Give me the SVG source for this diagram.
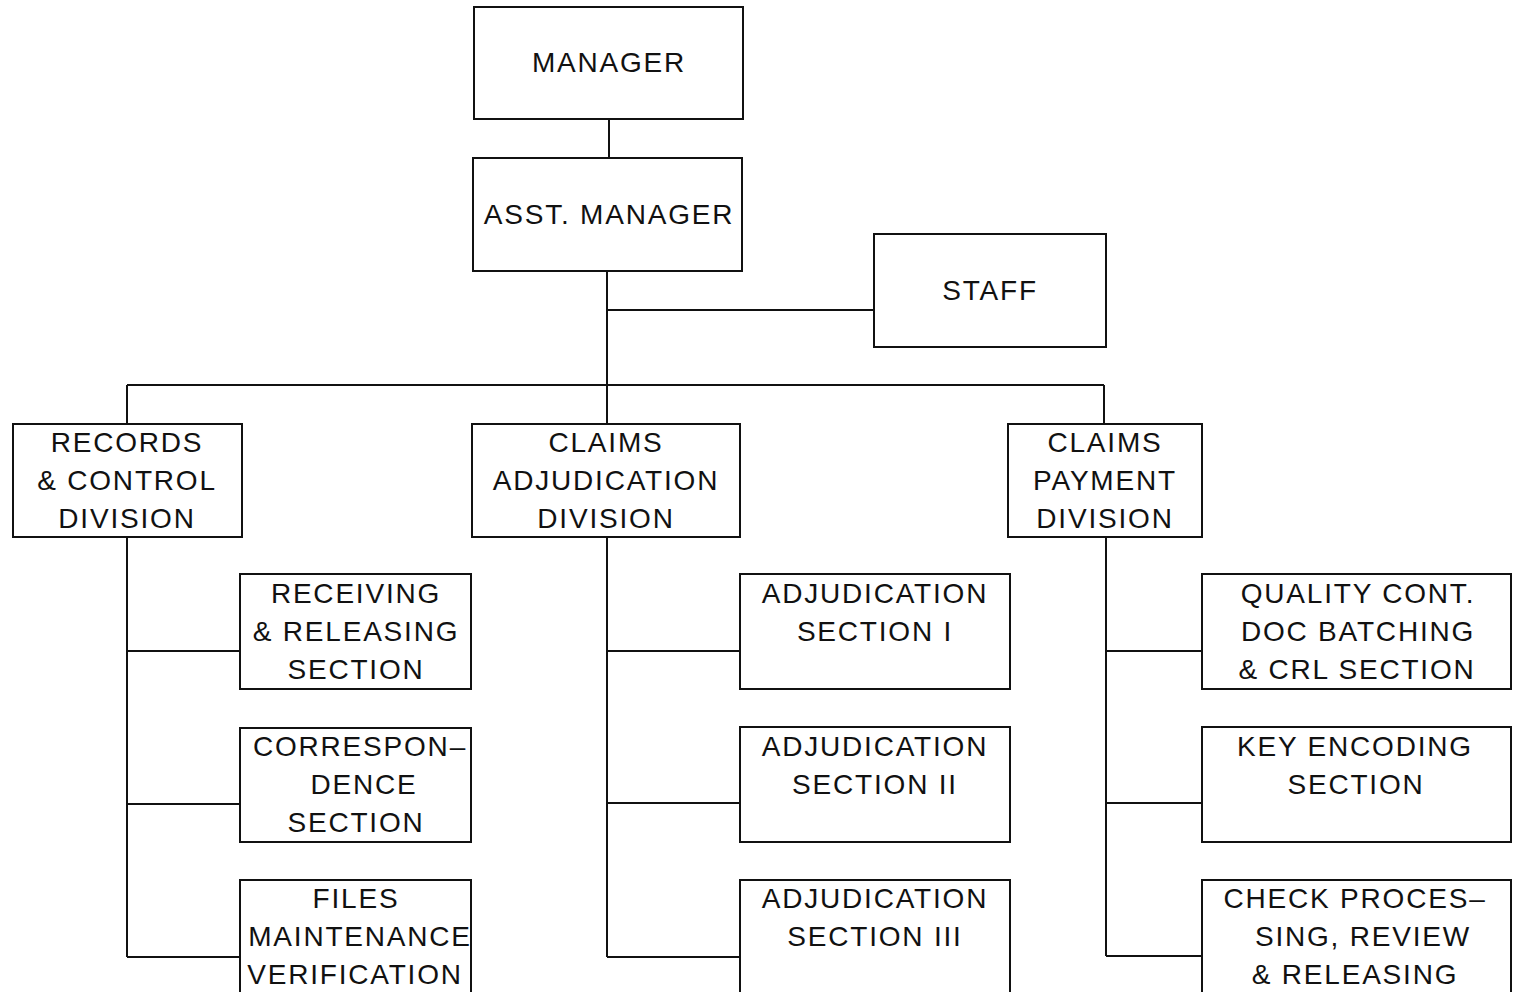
<svg xmlns="http://www.w3.org/2000/svg" width="1516" height="992" viewBox="0 0 1516 992">
<style>
.box{fill:#fff;stroke:#111;stroke-width:2}
.t{font-family:"Liberation Sans",Arial,sans-serif;font-size:28px;letter-spacing:1.8px;fill:#111;text-anchor:middle}
.c{stroke:#111;stroke-width:2;fill:none}
</style>
<rect width="1516" height="992" fill="#fff"/>
<g id="connectors">
<path class="c" d="M609 119V158M607 271V424M607 310H874M127 385H1104M127 385V424M1104 385V424"/>
<path class="c" d="M127 537V957M127 651H240M127 804H240M127 957H240"/>
<path class="c" d="M607 537V957M607 651H740M607 803H740M607 957H740"/>
<path class="c" d="M1106 537V956M1106 651H1202M1106 803H1202M1106 956H1202"/>
</g>
<g id="manager"><rect class="box" x="474" y="7" width="269" height="112"/><text class="t" x="609" y="72">MANAGER</text></g>
<g id="asst-manager"><rect class="box" x="473" y="158" width="269" height="113"/><text class="t" x="609" y="224">ASST. MANAGER</text></g>
<g id="staff"><rect class="box" x="874" y="234" width="232" height="113"/><text class="t" x="990" y="300">STAFF</text></g>
<g id="records-division"><rect class="box" x="13" y="424" width="229" height="113"/><text class="t" x="127" y="452">RECORDS</text><text class="t" x="127" y="490">&amp; CONTROL</text><text class="t" x="127" y="528">DIVISION</text></g>
<g id="claims-adjudication-division"><rect class="box" x="472" y="424" width="268" height="113"/><text class="t" x="606" y="452">CLAIMS</text><text class="t" x="606" y="490">ADJUDICATION</text><text class="t" x="606" y="528">DIVISION</text></g>
<g id="claims-payment-division"><rect class="box" x="1008" y="424" width="194" height="113"/><text class="t" x="1105" y="452">CLAIMS</text><text class="t" x="1105" y="490">PAYMENT</text><text class="t" x="1105" y="528">DIVISION</text></g>
<g id="receiving"><rect class="box" x="240" y="574" width="231" height="115"/><text class="t" x="356" y="603">RECEIVING</text><text class="t" x="356" y="641">&amp; RELEASING</text><text class="t" x="356" y="679">SECTION</text></g>
<g id="correspondence"><rect class="box" x="240" y="728" width="231" height="114"/><text class="t" x="360" y="756">CORRESPON–</text><text class="t" x="364" y="794">DENCE</text><text class="t" x="356" y="832">SECTION</text></g>
<g id="files"><rect class="box" x="240" y="880" width="231" height="120"/><text class="t" x="356" y="908">FILES</text><text class="t" x="360" y="946">MAINTENANCE</text><text class="t" x="355" y="984">VERIFICATION</text></g>
<g id="adj1"><rect class="box" x="740" y="574" width="270" height="115"/><text class="t" x="875" y="603">ADJUDICATION</text><text class="t" x="875" y="641">SECTION I</text></g>
<g id="adj2"><rect class="box" x="740" y="727" width="270" height="115"/><text class="t" x="875" y="756">ADJUDICATION</text><text class="t" x="875" y="794">SECTION II</text></g>
<g id="adj3"><rect class="box" x="740" y="880" width="270" height="120"/><text class="t" x="875" y="908">ADJUDICATION</text><text class="t" x="875" y="946">SECTION III</text></g>
<g id="quality"><rect class="box" x="1202" y="574" width="309" height="115"/><text class="t" x="1358" y="603">QUALITY CONT.</text><text class="t" x="1358" y="641">DOC BATCHING</text><text class="t" x="1357" y="679">&amp; CRL SECTION</text></g>
<g id="key-encoding"><rect class="box" x="1202" y="727" width="309" height="115"/><text class="t" x="1355" y="756">KEY ENCODING</text><text class="t" x="1356" y="794">SECTION</text></g>
<g id="check"><rect class="box" x="1202" y="880" width="309" height="120"/><text class="t" x="1355" y="908">CHECK PROCES–</text><text class="t" x="1363" y="946">SING, REVIEW</text><text class="t" x="1355" y="984">&amp; RELEASING</text></g>
</svg>
